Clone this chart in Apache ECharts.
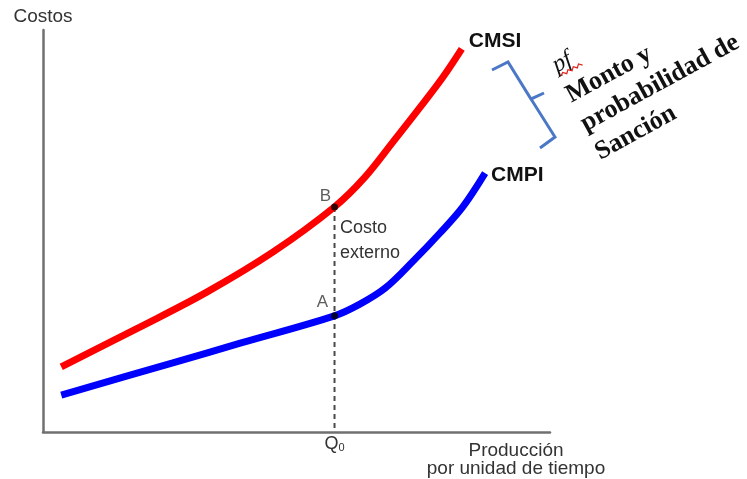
<!DOCTYPE html>
<html>
<head>
<meta charset="utf-8">
<script src="https://cdn.jsdelivr.net/npm/echarts@6/dist/echarts.min.js"></script>
<style>html,body{margin:0;padding:0;background:#fff;}#c{width:747px;height:479px;}</style>
</head>
<body>
<div id="c"></div>
<script>
// Data (arbitrary units on 0..100 axes)
const cmsiX = [3.6, 19.1, 32.3, 45.4, 57.5, 63.5, 69.0, 74.4, 78.9, 82.6];
const cmsiY = [16.2, 26.1, 34.8, 44.8, 56.0, 63.4, 72.1, 80.8, 88.3, 95.3];
const cmpiX = [3.6, 25.6, 38.9, 57.5, 62.5, 67.5, 73.0, 78.3, 82.8, 87.2];
const cmpiY = [9.2, 17.2, 22.1, 28.9, 31.8, 35.8, 42.5, 49.5, 56.0, 64.4];
const q0 = 57.5;
const pointB = 56.0;
const pointA = 28.9;
const labelY = 47.6;
const seriesNames = ['CMSI', 'CMPI'];
const pointNames = ['B', 'A'];
const yName = 'Costos';
const xName = 'Producción\npor unidad de tiempo';
const externoText = 'Costo\nexterno';
const noteLines = ['pf', 'Monto y', 'probabilidad de', 'Sanción'];

const zip = (xs, ys) => xs.map((x, i) => [x, ys[i]]);
const sans = 'Liberation Sans, Arial, sans-serif';
const chart = echarts.init(document.getElementById('c'));

chart.setOption({
  animation: false,
  backgroundColor: '#fff',
  grid: { left: 43, right: 197, top: 30, bottom: 47 },
  xAxis: {
    type: 'value', min: 0, max: 100,
    name: xName, nameLocation: 'end', nameGap: -34,
    nameTextStyle: { fontFamily: sans, fontSize: 19, color: '#333', align: 'center', verticalAlign: 'top', lineHeight: 18, padding: [10, 0, 0, 0] },
    axisLine: { show: true, lineStyle: { color: '#707070', width: 2.5 } },
    axisTick: { show: false }, axisLabel: { show: false }, splitLine: { show: false }
  },
  yAxis: {
    type: 'value', min: 0, max: 100,
    name: yName, nameLocation: 'end', nameGap: 4,
    nameTextStyle: { fontFamily: sans, fontSize: 19, color: '#333' },
    axisLine: { show: true, lineStyle: { color: '#707070', width: 2.5 } },
    axisTick: { show: false }, axisLabel: { show: false }, splitLine: { show: false }
  },
  series: [
    {
      name: seriesNames[0], type: 'line', data: zip(cmsiX, cmsiY),
      smooth: 0.35, showSymbol: false, z: 3,
      lineStyle: { color: '#ff0000', width: 7, cap: 'butt' },
      endLabel: { show: true, formatter: seriesNames[0], fontFamily: sans, fontWeight: 'bold', fontSize: 21, color: '#111', distance: 7, offset: [0, -8] }
    },
    {
      name: seriesNames[1], type: 'line', data: zip(cmpiX, cmpiY),
      smooth: 0.35, showSymbol: false, z: 3,
      lineStyle: { color: '#0000ff', width: 7, cap: 'butt' },
      endLabel: { show: true, formatter: seriesNames[1], fontFamily: sans, fontWeight: 'bold', fontSize: 21, color: '#111', distance: 6, offset: [0, 2] }
    },
    {
      type: 'line', z: 2, symbol: 'circle', symbolSize: 1,
      itemStyle: { color: 'rgba(0,0,0,0)' },
      lineStyle: { color: '#4a4a4a', width: 2, type: [5, 4] },
      data: [
        [q0, pointB],
        { value: [q0, labelY], label: { show: true, position: 'right', distance: 5, formatter: externoText, fontFamily: sans, fontSize: 18, lineHeight: 25, color: '#333' } },
        { value: [q0, 0], label: { show: true, position: 'bottom', distance: 2, formatter: '{q|Q}{s|0}', rich: { q: { fontFamily: sans, fontSize: 18, color: '#333' }, s: { fontFamily: sans, fontSize: 11, color: '#333', padding: [8, 0, 0, 0] } } } }
      ]
    },
    {
      type: 'scatter', z: 5, symbolSize: 7,
      itemStyle: { color: '#000' },
      label: { show: true, fontFamily: sans, fontSize: 17, color: '#333' },
      data: [
        { value: [q0, pointB], label: { formatter: pointNames[0], position: 'left', distance: 0, offset: [0, -11] } },
        { value: [q0, pointA], label: { formatter: pointNames[1], position: 'left', distance: 3, offset: [0, -14] } }
      ]
    }
  ],
  graphic: [
    {
      type: 'polyline', z: 10,
      shape: { points: [[492, 70], [508, 62], [531, 99], [544, 93], [531, 99], [555, 137], [540, 148]] },
      style: { stroke: '#4a78c6', lineWidth: 3, fill: null, lineJoin: 'miter' }
    },
    {
      type: 'group', x: 554, y: 67, rotation: 0.5, z: 10,
      children: [
        { type: 'text', x: 0, y: 0, style: { text: noteLines[0], font: 'italic 24px "Liberation Serif", serif', fill: '#111', verticalAlign: 'middle' } },
        { type: 'polyline', shape: { points: [[2, 11], [5, 9], [8, 12], [11, 9], [14, 12], [17, 9], [20, 12], [23, 9], [26, 12]] }, style: { stroke: '#e0201a', lineWidth: 1.2, fill: null } },
        { type: 'text', x: -2, y: 33, style: { text: noteLines[1], font: 'bold 26px "Liberation Serif", serif', fill: '#111', verticalAlign: 'middle' } },
        { type: 'text', x: -3, y: 65, style: { text: noteLines[2], font: 'bold 26px "Liberation Serif", serif', fill: '#111', verticalAlign: 'middle' } },
        { type: 'text', x: -4, y: 97, style: { text: noteLines[3], font: 'bold 26px "Liberation Serif", serif', fill: '#111', verticalAlign: 'middle' } }
      ]
    }
  ]
});
</script>
</body>
</html>
